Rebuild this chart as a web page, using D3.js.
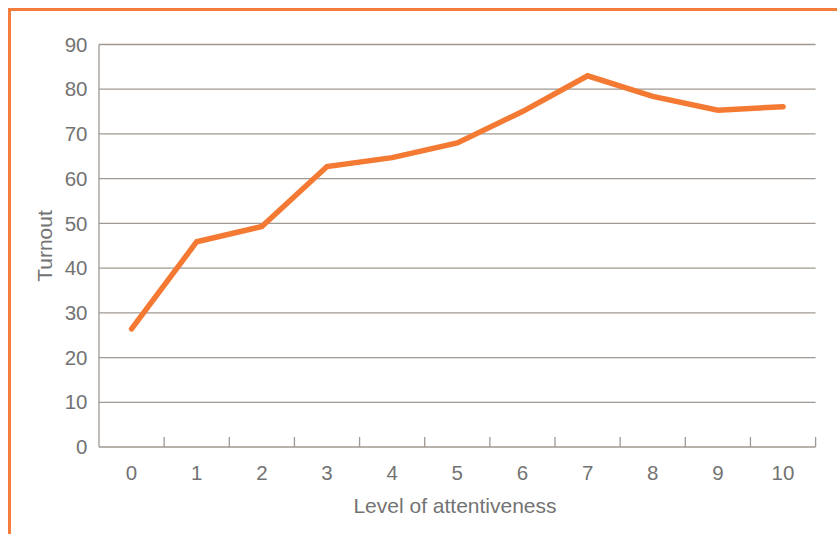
<!DOCTYPE html>
<html>
<head>
<meta charset="utf-8">
<script src="https://cdn.jsdelivr.net/npm/d3@7"></script>
<style>
  html, body { margin: 0; padding: 0; background: #fff; }
  svg { display: block; }
  text { font-family: "Liberation Sans", Arial, Helvetica, sans-serif; fill: #737373; }
</style>
</head>
<body>
<svg id="chart" width="837" height="534"></svg>
<script>
const categories = ["0","1","2","3","4","5","6","7","8","9","10"];
const turnout = [26.4, 45.9, 49.3, 62.7, 64.7, 68.0, 75.0, 83.0, 78.4, 75.3, 76.1];
const yTicks = [0,10,20,30,40,50,60,70,80,90];
const xTitle = "Level of attentiveness";
const yTitle = "Turnout";

(function () {
const svg = d3.select("#chart");
const pLeft = 99, pRight = 815.6, pTop = 44.5, pBottom = 447;
const gridColor = "#a09892";
const orange = "#f47a33";
const fs = 20.5;

// frame
svg.append("path")
  .attr("d", `M9.5,534 L9.5,9.5 L837,9.5`)
  .attr("fill", "none").attr("stroke", "#f47d3d").attr("stroke-width", 3);

const x = d3.scaleBand().domain(categories).range([pLeft, pRight]).padding(0);
const y = d3.scaleLinear().domain([0, 90]).range([pBottom, pTop]);

// gridlines
svg.append("g").selectAll("line").data(yTicks.filter(d => d > 0)).join("line")
  .attr("x1", pLeft).attr("x2", pRight)
  .attr("y1", d => y(d)).attr("y2", d => y(d))
  .attr("stroke", gridColor).attr("stroke-width", 1.3);

// y axis line
svg.append("line").attr("x1", pLeft).attr("x2", pLeft).attr("y1", pTop).attr("y2", pBottom)
  .attr("stroke", gridColor).attr("stroke-width", 1.3);
// x axis line
svg.append("line").attr("x1", pLeft).attr("x2", pRight).attr("y1", pBottom).attr("y2", pBottom)
  .attr("stroke", gridColor).attr("stroke-width", 1.3);
// x ticks at band boundaries (upward)
svg.append("g").selectAll("line").data(categories).join("line")
  .attr("x1", d => x(d) + x.bandwidth()).attr("x2", d => x(d) + x.bandwidth())
  .attr("y1", pBottom).attr("y2", pBottom - 10)
  .attr("stroke", gridColor).attr("stroke-width", 1.3);

// y tick labels
svg.append("g").selectAll("text").data(yTicks).join("text")
  .attr("x", 87.5).attr("y", d => y(d))
  .attr("dy", "0.35em").attr("text-anchor", "end")
  .attr("font-size", fs).text(d => d);

// x tick labels
svg.append("g").selectAll("text").data(categories).join("text")
  .attr("x", d => x(d) + x.bandwidth() / 2).attr("y", 473)
  .attr("dy", "0.35em").attr("text-anchor", "middle")
  .attr("font-size", fs).text(d => d);

// axis titles
svg.append("text").attr("x", 455).attr("y", 506).attr("dy", "0.35em")
  .attr("text-anchor", "middle").attr("font-size", 21).text(xTitle);
svg.append("text").attr("transform", "translate(45,246) rotate(-90)")
  .attr("dy", "0.35em").attr("text-anchor", "middle").attr("font-size", 21).text(yTitle);

// line
const line = d3.line()
  .x((d, i) => x(categories[i]) + x.bandwidth() / 2)
  .y(d => y(d));
svg.append("path").datum(turnout)
  .attr("d", line).attr("fill", "none")
  .attr("stroke", orange).attr("stroke-width", 5.5)
  .attr("stroke-linejoin", "miter").attr("stroke-linecap", "round");
})();
</script>
</body>
</html>
